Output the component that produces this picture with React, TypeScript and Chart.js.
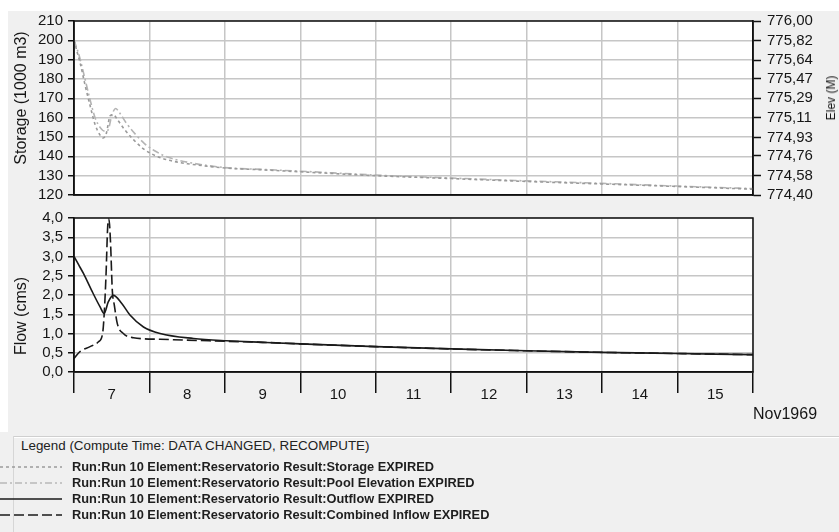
import React, { useEffect, useRef } from 'react';
import { Chart, registerables } from 'chart.js';

Chart.register(...registerables);

// ---------- data ----------
const dayLabels = ['7', '8', '9', '10', '11', '12', '13', '14', '15'];
const dateLabel = 'Nov1969';

const storageTickValues = [120, 130, 140, 150, 160, 170, 180, 190, 200, 210];
const elevTickLabels = ['774,40', '774,58', '774,76', '774,93', '775,11', '775,29', '775,47', '775,64', '775,82', '776,00'];
const flowTickLabels = ['0,0', '0,5', '1,0', '1,5', '2,0', '2,5', '3,0', '3,5', '4,0'];

// hours since 7 Nov 1969 00:00
const storageHours = [0, 1, 2, 3.5, 5, 6.7, 8.3, 9.3, 10.3, 11.5, 12.5, 14, 16, 19, 22, 25, 28, 32, 36, 48, 60, 72, 96, 120, 144, 168, 192, 216];
const storageValues = [200, 194, 188, 177, 167, 156.5, 151, 149.5, 152, 161, 161.5, 158.5, 154, 148.5, 144, 141, 139, 137.3, 136.2, 134, 133, 132, 130, 128.5, 127, 125.7, 124.4, 123];

const elevHours = [0, 1, 2, 3.5, 5, 6.7, 8.3, 9.8, 10.8, 12, 13.2, 14.5, 16.5, 19.5, 22.5, 25.5, 28.5, 32, 36, 48, 60, 72, 96, 120, 144, 168, 192, 216];
const elevValues = [775.822, 775.742, 775.644, 775.467, 775.289, 775.111, 775.022, 774.987, 774.996, 775.129, 775.196, 775.156, 775.067, 774.96, 774.871, 774.809, 774.764, 774.729, 774.702, 774.652, 774.635, 774.619, 774.583, 774.556, 774.53, 774.507, 774.482, 774.459];

const outflowHours = [0, 1.5, 3, 5.6, 8.3, 9.6, 10.9, 12.5, 15.2, 17.8, 22.1, 27.4, 38, 48.6, 60, 72, 96, 120, 144, 168, 192, 216];
const outflowValues = [3.0, 2.78, 2.56, 2.12, 1.69, 1.52, 1.82, 1.99, 1.78, 1.48, 1.17, 1.0, 0.87, 0.81, 0.77, 0.73, 0.66, 0.6, 0.55, 0.51, 0.48, 0.45];

const inflowHours = [0, 1.9, 5.1, 7.7, 9.1, 9.6, 10.2, 10.7, 11.1, 11.6, 12.2, 12.8, 13.8, 15.7, 18.9, 27.4, 43, 60, 72, 96, 120, 144, 168, 192, 216];
const inflowValues = [0.35, 0.53, 0.66, 0.78, 1.0, 1.5, 2.55, 3.75, 3.97, 3.4, 2.1, 1.75, 1.25, 1.0, 0.89, 0.85, 0.81, 0.77, 0.73, 0.66, 0.6, 0.55, 0.51, 0.48, 0.45];

const legendTitle = 'Legend (Compute Time: DATA CHANGED, RECOMPUTE)';
const legendItems = [
  'Run:Run 10 Element:Reservatorio Result:Storage EXPIRED',
  'Run:Run 10 Element:Reservatorio Result:Pool Elevation EXPIRED',
  'Run:Run 10 Element:Reservatorio Result:Outflow EXPIRED',
  'Run:Run 10 Element:Reservatorio Result:Combined Inflow EXPIRED',
];

// ---------- styles ----------
const FONT = '"Liberation Sans", Arial, Helvetica, sans-serif';
const GRID = '#c6c6c6';
const TXT = '#161616';
const legendDash = ['3 3', '7 3 2 3', '', '10 4'];
const legendColor = ['#9a9a9a', '#b8b8b8', '#1a1a1a', '#1a1a1a'];

const toXY = (hs: number[], vs: number[]) => hs.map((h, i) => ({ x: h, y: vs[i] }));

const xTickValues = (() => {
  const out: number[] = [];
  for (let d = 0; d <= dayLabels.length; d++) {
    out.push(d * 24);
    if (d < dayLabels.length) out.push(d * 24 + 12);
  }
  return out;
})();

const frameAndBg = {
  id: 'frameAndBg',
  beforeDraw(chart: any) {
    const { ctx, chartArea: a } = chart;
    ctx.save();
    ctx.fillStyle = '#ffffff';
    ctx.fillRect(a.left, a.top, a.right - a.left, a.bottom - a.top);
    ctx.restore();
  },
  afterDraw(chart: any) {
    const { ctx, chartArea: a } = chart;
    ctx.save();
    ctx.strokeStyle = '#111';
    ctx.lineWidth = 1.5;
    ctx.strokeRect(a.left, a.top, a.right - a.left, a.bottom - a.top);
    ctx.restore();
  },
};

const xScale = (showLabels: boolean) => ({
  type: 'linear',
  min: 0,
  max: dayLabels.length * 24,
  afterBuildTicks: (s: any) => {
    s.ticks = xTickValues.map((v) => ({ value: v }));
  },
  afterFit: (s: any) => {
    s.height = showLabels ? 60 : 0;
  },
  border: { display: true, color: '#111', width: 1.5 },
  grid: {
    color: (c: any) => (c.tick && c.tick.value % 24 === 0 ? GRID : 'rgba(0,0,0,0)'),
    tickColor: (c: any) => (c.tick && c.tick.value % 24 === 0 ? '#111' : 'rgba(0,0,0,0)'),
    lineWidth: 1.5,
    drawTicks: showLabels,
    tickLength: 21,
    tickWidth: 1.5,
  },
  ticks: {
    display: showLabels,
    autoSkip: false,
    maxRotation: 0,
    minRotation: 0,
    padding: -7,
    color: TXT,
    font: { size: 15, family: FONT },
    callback: (v: number) => (v % 24 === 12 ? dayLabels[(v - 12) / 24] : ''),
  },
});

export default function App() {
  const topRef = useRef<HTMLCanvasElement>(null);
  const botRef = useRef<HTMLCanvasElement>(null);

  useEffect(() => {
    Chart.defaults.font.family = FONT;
    const top = new Chart(topRef.current as HTMLCanvasElement, {
      type: 'line',
      data: {
        datasets: [
          {
            label: 'Storage',
            data: toXY(storageHours, storageValues),
            yAxisID: 'y',
            borderColor: '#9a9a9a',
            borderWidth: 1.6,
            borderDash: [3, 3],
            pointRadius: 0,
            cubicInterpolationMode: 'monotone',
          },
          {
            label: 'Pool Elevation',
            data: toXY(elevHours, elevValues),
            yAxisID: 'y2',
            borderColor: '#b4b4b4',
            borderWidth: 1.6,
            borderDash: [7, 3, 2, 3],
            pointRadius: 0,
            cubicInterpolationMode: 'monotone',
          },
        ],
      } as any,
      options: {
        responsive: false,
        animation: false,
        events: [],
        layout: { padding: { top: 21, bottom: 12, left: 0, right: 0 } },
        plugins: { legend: { display: false }, tooltip: { enabled: false } },
        scales: {
          x: xScale(false),
          y: {
            position: 'left',
            min: storageTickValues[0],
            max: storageTickValues[storageTickValues.length - 1],
            afterBuildTicks: (s: any) => {
              s.ticks = storageTickValues.map((v) => ({ value: v }));
            },
            afterFit: (s: any) => {
              s.width = 74;
            },
            border: { color: '#111', width: 1.5 },
            grid: { color: GRID, lineWidth: 1.5, tickColor: '#111', tickLength: 6, tickWidth: 1.5 },
            ticks: { autoSkip: false, padding: 5, color: TXT, font: { size: 15, family: FONT } },
          },
          y2: {
            position: 'right',
            min: parseFloat(elevTickLabels[0].replace(',', '.')),
            max: parseFloat(elevTickLabels[elevTickLabels.length - 1].replace(',', '.')),
            afterBuildTicks: (s: any) => {
              s.ticks = elevTickLabels.map((l) => ({ value: parseFloat(l.replace(',', '.')) }));
            },
            afterFit: (s: any) => {
              s.width = 86;
            },
            border: { color: '#111', width: 1.5 },
            grid: { drawOnChartArea: false, tickColor: '#111', tickLength: 8, tickWidth: 1.5 },
            ticks: {
              autoSkip: false,
              padding: 6,
              color: TXT,
              font: { size: 15, family: FONT },
              callback: (_v: number, i: number) => elevTickLabels[i],
            },
          },
        },
      } as any,
      plugins: [frameAndBg],
    });

    const bot = new Chart(botRef.current as HTMLCanvasElement, {
      type: 'line',
      data: {
        datasets: [
          {
            label: 'Outflow',
            data: toXY(outflowHours, outflowValues),
            borderColor: '#1a1a1a',
            borderWidth: 1.6,
            pointRadius: 0,
            cubicInterpolationMode: 'monotone',
          },
          {
            label: 'Combined Inflow',
            data: toXY(inflowHours, inflowValues),
            borderColor: '#1a1a1a',
            borderWidth: 1.6,
            borderDash: [10, 4],
            pointRadius: 0,
            cubicInterpolationMode: 'monotone',
          },
        ],
      } as any,
      options: {
        responsive: false,
        animation: false,
        events: [],
        layout: { padding: { top: 18, bottom: 0, left: 0, right: 86 } },
        plugins: { legend: { display: false }, tooltip: { enabled: false } },
        scales: {
          x: xScale(true),
          y: {
            position: 'left',
            min: 0,
            max: 4,
            afterBuildTicks: (s: any) => {
              s.ticks = flowTickLabels.map((l) => ({ value: parseFloat(l.replace(',', '.')) }));
            },
            afterFit: (s: any) => {
              s.width = 74;
            },
            border: { color: '#111', width: 1.5 },
            grid: { color: GRID, lineWidth: 1.5, tickColor: '#111', tickLength: 6, tickWidth: 1.5 },
            ticks: {
              autoSkip: false,
              padding: 5,
              color: TXT,
              font: { size: 15, family: FONT },
              callback: (_v: number, i: number) => flowTickLabels[i],
            },
          },
        },
      } as any,
      plugins: [frameAndBg],
    });

    return () => {
      top.destroy();
      bot.destroy();
    };
  }, []);

  const rot = (cx: number, cy: number, size: number): React.CSSProperties => ({
    position: 'absolute',
    left: cx,
    top: cy,
    transform: 'translate(-50%, -50%) rotate(-90deg)',
    whiteSpace: 'nowrap',
    fontSize: size,
    lineHeight: `${size}px`,
    color: TXT,
  });

  const rowY = [467, 483, 499, 515];

  return (
    <div
      style={{
        position: 'fixed',
        left: 0,
        top: 0,
        width: 839,
        height: 532,
        background: '#ffffff',
        overflow: 'hidden',
        fontFamily: FONT,
      }}
    >
      <div style={{ position: 'absolute', left: 8, top: 11, width: 831, height: 421, background: '#f0f0f0' }} />
      <div style={{ position: 'absolute', left: 0, top: 432, width: 839, height: 100, background: '#f0f0f0' }} />
      <canvas ref={topRef} width={839} height={210} style={{ position: 'absolute', left: 0, top: 0, width: 839, height: 210 }} />
      <canvas ref={botRef} width={839} height={232} style={{ position: 'absolute', left: 0, top: 200, width: 839, height: 232 }} />

      <div style={rot(21, 98, 16)}>Storage (1000 m3)</div>
      <div style={rot(831, 98, 12)}>Elev (M)</div>
      <div style={rot(21, 316, 16)}>Flow (cms)</div>

      <div style={{ position: 'absolute', left: 753, top: 406, fontSize: 16, lineHeight: '16px', color: TXT, whiteSpace: 'nowrap' }}>
        {dateLabel}
      </div>

      <div style={{ position: 'absolute', left: 13, top: 436, width: 826, height: 0, borderTop: '1px solid #cfcfcf', borderBottom: '1px solid #ffffff' }} />
      <div style={{ position: 'absolute', left: 13, top: 436, width: 0, height: 100, borderLeft: '1px solid #d6d6d6' }} />

      <div style={{ position: 'absolute', left: 21, top: 438, fontSize: 13.4, lineHeight: '16px', color: '#222', whiteSpace: 'nowrap', background: '#f0f0f0' }}>
        {legendTitle}
      </div>

      {legendItems.map((t, i) => (
        <React.Fragment key={i}>
          <svg style={{ position: 'absolute', left: 0, top: rowY[i] - 4 }} width={64} height={8}>
            <line
              x1={0}
              y1={4}
              x2={62}
              y2={4}
              stroke={legendColor[i]}
              strokeWidth={1.6}
              strokeDasharray={legendDash[i] || undefined}
            />
          </svg>
          <div
            style={{
              position: 'absolute',
              left: 72,
              top: rowY[i] - 8,
              fontSize: 12.8,
              fontWeight: 'bold',
              lineHeight: '16px',
              color: '#1e1e1e',
              whiteSpace: 'nowrap',
            }}
          >
            {t}
          </div>
        </React.Fragment>
      ))}
    </div>
  );
}
